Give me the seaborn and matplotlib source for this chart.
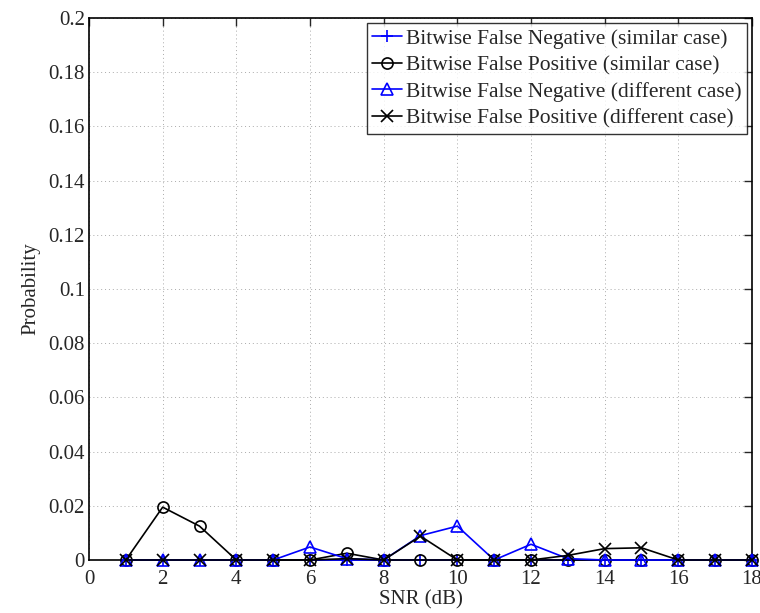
import numpy as np
import pandas as pd
import seaborn as sns
import matplotlib
matplotlib.use('Agg')
import matplotlib.pyplot as plt

snr = list(range(1, 19))
fn_similar = [0, 0, 0, 0, 0, 0, 0, 0, 0, 0, 0, 0, 0, 0, 0, 0, 0, 0]
fp_similar = [0, 0.0195, 0.0125, 0, 0, 0, 0.0025, 0, 0, 0, 0, 0, 0, 0, 0, 0, 0, 0]
fn_different = [0, 0, 0, 0, 0, 0.0048, 0.0005, 0, 0.009, 0.0125, 0, 0.0058, 0.0005, 0, 0, 0, 0, 0]
fp_different = [0, 0, 0, 0, 0, 0, 0.0005, 0, 0.0088, 0, 0, 0, 0.0017, 0.0042, 0.0045, 0, 0, 0]
labels = ['Bitwise False Negative (similar case)',
          'Bitwise False Positive (similar case)',
          'Bitwise False Negative (different case)',
          'Bitwise False Positive (different case)']

sns.set_style('white')
plt.rcParams['font.family'] = ['Liberation Serif', 'DejaVu Serif']

fig = plt.figure(figsize=(7.6, 6.13), dpi=100)
ax = fig.add_axes([89 / 760, 1 - 560 / 613, (752 - 89) / 760, (560 - 18) / 613])

series = [fn_similar, fp_similar, fn_different, fp_different]
colors = ['blue', 'black', 'blue', 'black']
markers = ['+', 'o', '^', 'x']
for vals, lab, c, m in zip(series, labels, colors, markers):
    df = pd.DataFrame({'snr': snr, 'p': vals})
    sns.lineplot(data=df, x='snr', y='p', ax=ax, color=c, marker=m, label=lab,
                 markersize=8, markerfacecolor='none', markeredgecolor=c,
                 markeredgewidth=1.2, linewidth=1.2, clip_on=False, zorder=3)

ax.set_xlim(0, 18)
ax.set_ylim(0, 0.2)
ax.set_xticks(range(0, 19, 2))
yt = np.arange(0, 0.201, 0.02)
ax.set_yticks(yt)
ax.set_yticklabels(['0'] + ['%g' % round(v, 2) for v in yt[1:]])
ax.grid(True, linestyle=(0, (1, 3)), color='#aaaaaa', linewidth=0.7)
ax.tick_params(direction='in', length=6, labelsize=15, width=1, top=True, right=True,
               labeltop=False, labelright=False, pad=3)
ax.tick_params(axis='x', pad=7)
for s in ax.spines.values():
    s.set_color('black')
    s.set_linewidth(1.2)
ax.set_xlabel('SNR (dB)', fontsize=15, labelpad=1)
ax.set_ylabel('Probability', fontsize=15, labelpad=6)

leg = ax.legend(loc='upper right', fontsize=15.5, frameon=True, fancybox=False,
                handlelength=1.4, handletextpad=0.15, borderpad=0.25, labelspacing=0.3,
                borderaxespad=0.25)
leg.get_frame().set_edgecolor('black')
leg.get_frame().set_linewidth(1.0)

fig.savefig('out.png', dpi=100)
